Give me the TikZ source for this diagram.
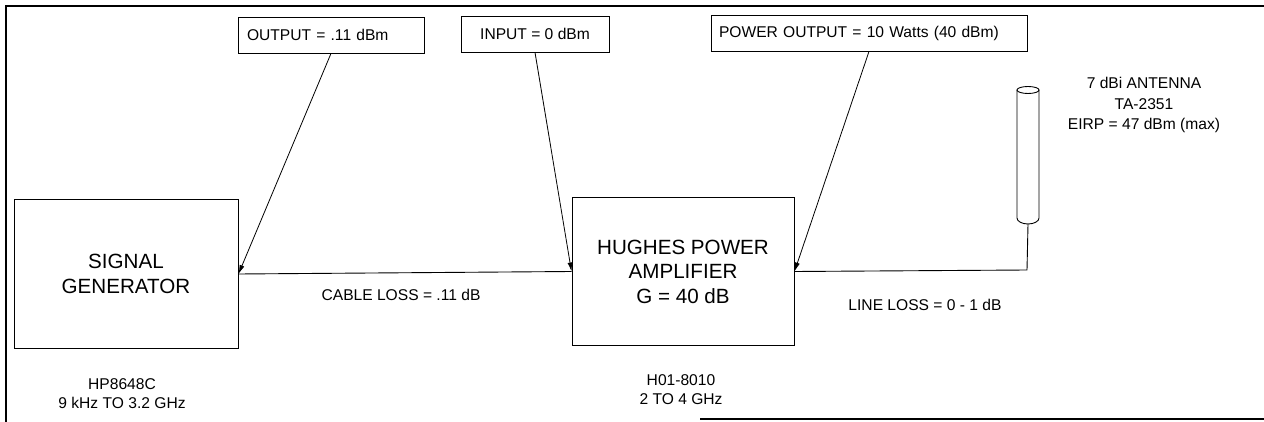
\documentclass[tikz,border=0pt]{standalone}
\usepackage{fontspec}
\setmainfont{Liberation Sans}
\usepackage{tikz}
\usetikzlibrary{
  arrows.meta
}

\begin{document}
\begin{tikzpicture}[
  x=1pt,y=-1pt,
  unit/.style={rectangle,draw,line width=1pt,inner sep=0pt,align=center,font=\fontsize{20.6}{24.5}\selectfont},
  lbox/.style={rectangle,draw,line width=0.9pt,minimum height=36pt,inner ysep=0pt,font=\fontsize{15.6}{19}\selectfont},
  txt/.style={align=center,inner sep=0pt,font=\fontsize{15.6}{19.5}\selectfont},
  a/.style={-{Latex[length=9pt,width=5pt]},line width=0.8pt},
  w/.style={line width=0.9pt}
]
\useasboundingbox (0,0) rectangle (1264,422);
% frame
\draw[line width=1.8pt] (6,422) -- (6,6) -- (1264,6);
\draw[line width=1.8pt] (700,419) -- (1264,419);
% units
\node[unit,minimum width=224pt,minimum height=148pt] (sg) at (126,274) {SIGNAL\\GENERATOR};
\node[unit,minimum width=222pt,minimum height=147pt] (hpa) at (683,271.5) {HUGHES POWER\\AMPLIFIER\\G = 40 dB};
% antenna
\node[minimum width=22pt,minimum height=138pt,inner sep=0pt] (ant) at (1028,155) {};
\draw[w] (1028,90) ellipse[x radius=11,y radius=3.5];
\draw[w] (1017,90) -- (1017,218) arc[start angle=180,end angle=0,x radius=11,y radius=6] -- (1039,90);
% level boxes
\node[lbox,minimum width=186pt,text width=168pt,inner xsep=9pt,align=left] (out) at (331,35) {OUTPUT = .11 dBm};
\node[lbox,minimum width=148pt,align=center] (inp) at (535,34) {INPUT = 0 dBm};
\node[lbox,minimum width=316pt,text width=300pt,inner xsep=8pt,align=left] (pwr) at (869,33) {POWER OUTPUT = 10 Watts (40 dBm)};
% labels
\node[txt] (cable) at (401,295) {CABLE LOSS = .11 dB};
\node[txt] (line) at (925,305) {LINE LOSS = 0 - 1 dB};
\node[txt] (sgid) at (122,393.5) {HP8648C\\9 kHz TO 3.2 GHz};
\node[txt] (hpaid) at (681,389.5) {H01-8010\\2 TO 4 GHz};
\node[txt,font=\fontsize{15.6}{20.5}\selectfont] (antid) at (1144,105) {7 dBi ANTENNA\\TA-2351\\EIRP = 47 dBm (max)};
% connections
\coordinate (bend) at (1027,270);
\draw[w] (sg.east) -- (hpa.west);
\draw[w] (hpa.east) -- (bend) -- (ant.south);
\draw[a] (out.south) -- (sg.east);
\draw[a] (inp.south) -- (hpa.west);
\draw[a] (pwr.south) -- (hpa.east);
\end{tikzpicture}
\end{document}
